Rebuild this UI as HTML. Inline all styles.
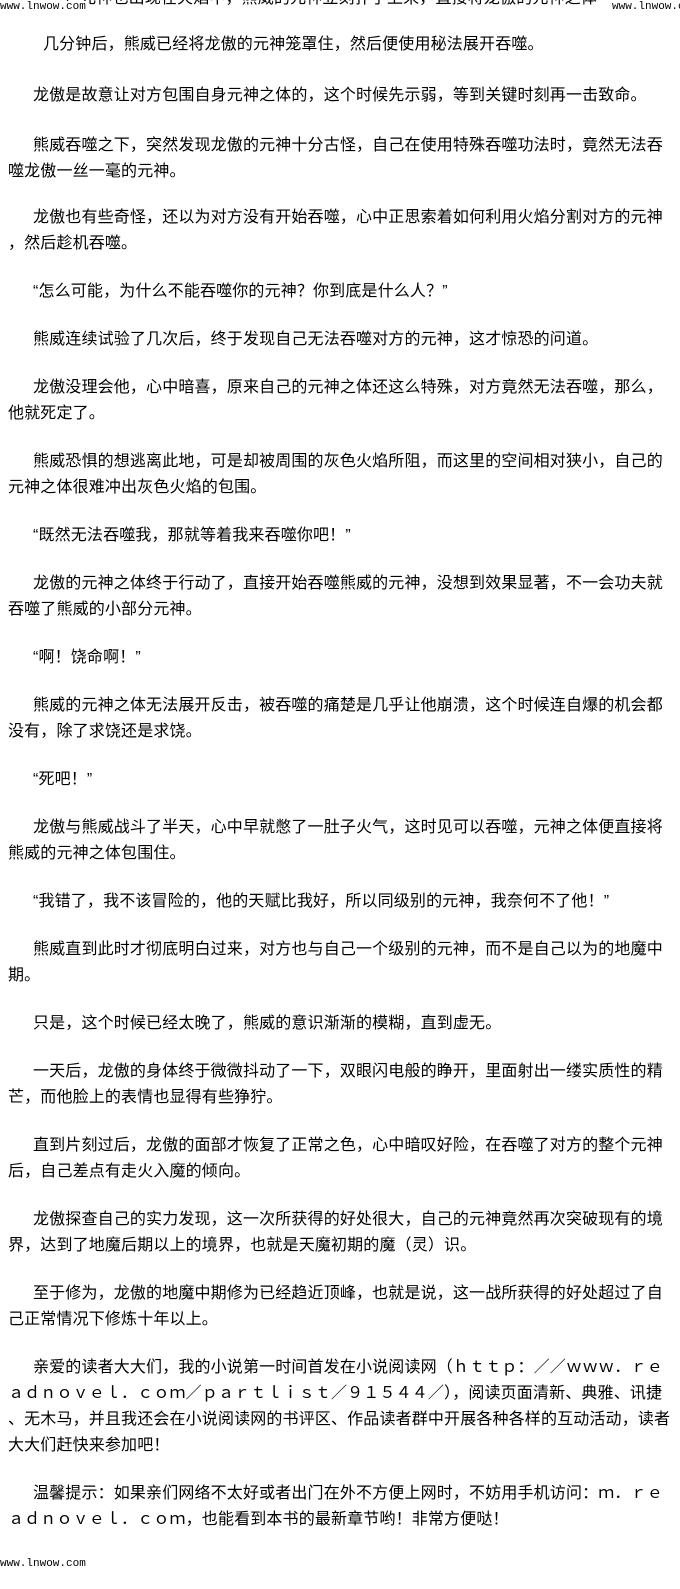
<!DOCTYPE html>
<html><head><meta charset="utf-8"><style>
html,body{margin:0;padding:0;background:#fff;}
body{width:680px;height:1589px;position:relative;overflow:hidden;font-family:"Liberation Sans","Noto Sans CJK SC","WenQuanYi Zen Hei",sans-serif;color:#000;}
.l{position:absolute;font-size:16px;letter-spacing:0.15px;white-space:nowrap;line-height:18px;}
.w{position:absolute;font-family:"Liberation Mono",monospace;font-size:11px;color:#000;white-space:nowrap;}
</style></head><body>
<div class="l" style="left:64px;top:-10px">）元神也出现在火焰中，熊威的元神立刻扑了上来，直接将龙傲的元神之体</div>
<div class="w" style="left:0;top:1px;background:#fff">www.lnwow.com</div>
<div class="w" style="left:612px;top:1px;background:#fff">www.lnwow.com</div>

<div class="l" style="left:43px;top:36px">几分钟后，熊威已经将龙傲的元神笼罩住，然后便使用秘法展开吞噬。</div>
<div class="l" style="left:33px;top:87px">龙傲是故意让对方包围自身元神之体的，这个时候先示弱，等到关键时刻再一击致命。</div>
<div class="l" style="left:33px;top:137px">熊威吞噬之下，突然发现龙傲的元神十分古怪，自己在使用特殊吞噬功法时，竟然无法吞</div>
<div class="l" style="left:8px;top:163px">噬龙傲一丝一毫的元神。</div>
<div class="l" style="left:33px;top:209px">龙傲也有些奇怪，还以为对方没有开始吞噬，心中正思索着如何利用火焰分割对方的元神</div>
<div class="l" style="left:8px;top:235px">，然后趁机吞噬。</div>
<div class="l" style="left:33px;top:283px">“怎么可能，为什么不能吞噬你的元神？你到底是什么人？”</div>
<div class="l" style="left:33px;top:331px">熊威连续试验了几次后，终于发现自己无法吞噬对方的元神，这才惊恐的问道。</div>
<div class="l" style="left:33px;top:379px">龙傲没理会他，心中暗喜，原来自己的元神之体还这么特殊，对方竟然无法吞噬，那么，</div>
<div class="l" style="left:8px;top:405px">他就死定了。</div>
<div class="l" style="left:33px;top:453px">熊威恐惧的想逃离此地，可是却被周围的灰色火焰所阻，而这里的空间相对狭小，自己的</div>
<div class="l" style="left:8px;top:479px">元神之体很难冲出灰色火焰的包围。</div>
<div class="l" style="left:33px;top:527px">“既然无法吞噬我，那就等着我来吞噬你吧！”</div>
<div class="l" style="left:33px;top:575px">龙傲的元神之体终于行动了，直接开始吞噬熊威的元神，没想到效果显著，不一会功夫就</div>
<div class="l" style="left:8px;top:601px">吞噬了熊威的小部分元神。</div>
<div class="l" style="left:33px;top:649px">“啊！饶命啊！”</div>
<div class="l" style="left:33px;top:697px">熊威的元神之体无法展开反击，被吞噬的痛楚是几乎让他崩溃，这个时候连自爆的机会都</div>
<div class="l" style="left:8px;top:723px">没有，除了求饶还是求饶。</div>
<div class="l" style="left:33px;top:771px">“死吧！”</div>
<div class="l" style="left:33px;top:819px">龙傲与熊威战斗了半天，心中早就憋了一肚子火气，这时见可以吞噬，元神之体便直接将</div>
<div class="l" style="left:8px;top:845px">熊威的元神之体包围住。</div>
<div class="l" style="left:33px;top:893px">“我错了，我不该冒险的，他的天赋比我好，所以同级别的元神，我奈何不了他！”</div>
<div class="l" style="left:33px;top:941px">熊威直到此时才彻底明白过来，对方也与自己一个级别的元神，而不是自己以为的地魔中</div>
<div class="l" style="left:8px;top:967px">期。</div>
<div class="l" style="left:33px;top:1015px">只是，这个时候已经太晚了，熊威的意识渐渐的模糊，直到虚无。</div>
<div class="l" style="left:33px;top:1063px">一天后，龙傲的身体终于微微抖动了一下，双眼闪电般的睁开，里面射出一缕实质性的精</div>
<div class="l" style="left:8px;top:1089px">芒，而他脸上的表情也显得有些狰狞。</div>
<div class="l" style="left:33px;top:1137px">直到片刻过后，龙傲的面部才恢复了正常之色，心中暗叹好险，在吞噬了对方的整个元神</div>
<div class="l" style="left:8px;top:1163px">后，自己差点有走火入魔的倾向。</div>
<div class="l" style="left:33px;top:1211px">龙傲探查自己的实力发现，这一次所获得的好处很大，自己的元神竟然再次突破现有的境</div>
<div class="l" style="left:8px;top:1237px">界，达到了地魔后期以上的境界，也就是天魔初期的魔（灵）识。</div>
<div class="l" style="left:33px;top:1285px">至于修为，龙傲的地魔中期修为已经趋近顶峰，也就是说，这一战所获得的好处超过了自</div>
<div class="l" style="left:8px;top:1311px">己正常情况下修炼十年以上。</div>
<div class="l" style="left:33px;top:1359px">亲爱的读者大大们，我的小说第一时间首发在小说阅读网（ｈｔｔｐ：／／ｗｗｗ．ｒｅ</div>
<div class="l" style="left:8px;top:1385px">ａｄｎｏｖｅｌ．ｃｏｍ／ｐａｒｔｌｉｓｔ／９１５４４／），阅读页面清新、典雅、讯捷</div>
<div class="l" style="left:8px;top:1411px">、无木马，并且我还会在小说阅读网的书评区、作品读者群中开展各种各样的互动活动，读者</div>
<div class="l" style="left:8px;top:1437px">大大们赶快来参加吧！</div>
<div class="l" style="left:33px;top:1485px">温馨提示：如果亲们网络不太好或者出门在外不方便上网时，不妨用手机访问：ｍ．ｒｅ</div>
<div class="l" style="left:8px;top:1511px">ａｄｎｏｖｅｌ．ｃｏｍ，也能看到本书的最新章节哟！非常方便哒！</div>
<div class="w" style="left:0;top:1558px">www.lnwow.com</div>
</body></html>
